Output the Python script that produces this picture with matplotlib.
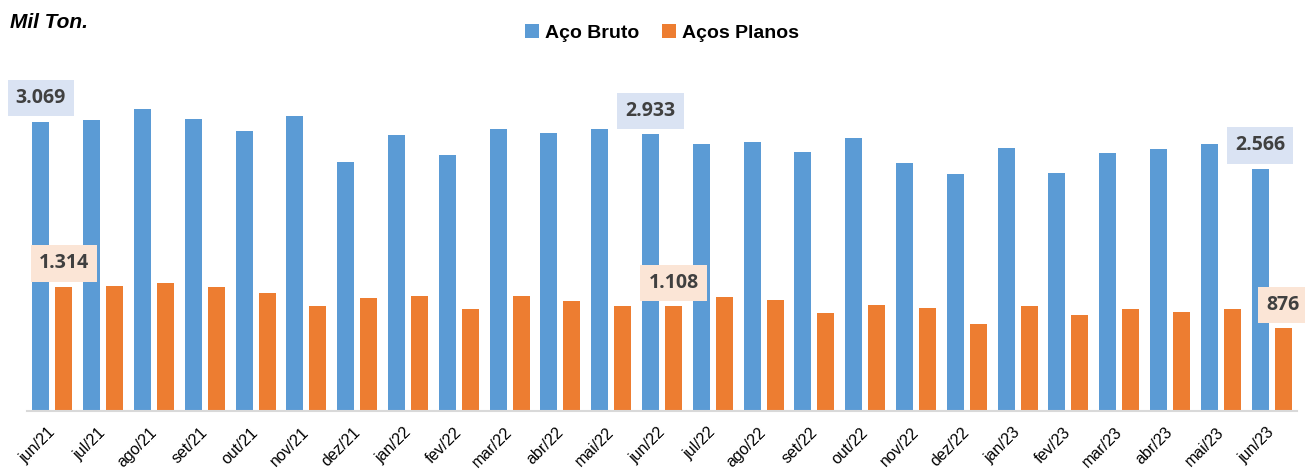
import numpy as np
import matplotlib
matplotlib.use("Agg")
import matplotlib.pyplot as plt
import matplotlib.transforms as mtransforms
from matplotlib.patches import Patch

BLUE = "#5b9bd5"
ORANGE = "#ed7d31"
BLUE_BOX = "#dae3f3"
ORANGE_BOX = "#fbe5d6"
TEXT = "#404040"

plt.rcParams["font.family"] = ["Liberation Sans Narrow", "Liberation Sans", "DejaVu Sans"]

months = ["jun/21", "jul/21", "ago/21", "set/21", "out/21", "nov/21", "dez/21",
          "jan/22", "fev/22", "mar/22", "abr/22", "mai/22", "jun/22", "jul/22",
          "ago/22", "set/22", "out/22", "nov/22", "dez/22", "jan/23", "fev/23",
          "mar/23", "abr/23", "mai/23", "jun/23"]

aco_bruto = [3069, 3083, 3200, 3097, 2970, 3129, 2639, 2928, 2712, 2990, 2948,
             2990, 2933, 2835, 2849, 2743, 2891, 2629, 2512, 2788, 2526, 2731,
             2774, 2834, 2566]

acos_planos = [1314, 1327, 1359, 1314, 1256, 1110, 1195, 1224, 1082, 1224, 1167,
               1110, 1108, 1210, 1181, 1040, 1125, 1096, 922, 1110, 1021, 1082,
               1053, 1082, 876]

labelled = [0, 12, 24]   # months with value boxes


def fmt(v):
    return f"{v:,}".replace(",", ".")


fig = plt.figure(figsize=(13.05, 4.73), dpi=100)
ax = fig.add_axes([27 / 1305, 1 - 411 / 473, 1270 / 1305, 349 / 473])

x = np.arange(len(months))
w = 0.335
off = 0.227
ax.bar(x - off, aco_bruto, w, color=BLUE, label="Aço Bruto")
ax.bar(x + off, acos_planos, w, color=ORANGE, label="Aços Planos")

ax.set_xlim(-0.5, len(months) - 0.5)
ax.set_ylim(0, 3700)
ax.set_yticks([])
for s in ["top", "right", "left"]:
    ax.spines[s].set_visible(False)
ax.spines["bottom"].set_color("#d9d9d9")
ax.spines["bottom"].set_linewidth(1.5)

ax.set_xticks(x)
ax.set_xticklabels(months, rotation=45, ha="right", va="top",
                   rotation_mode="anchor", fontsize=11.5, color="black")
ax.tick_params(axis="x", length=0, pad=10)
shift = mtransforms.ScaledTranslation(-5 / 100, 0, fig.dpi_scale_trans)
for lab in ax.get_xticklabels():
    lab.set_transform(lab.get_transform() + shift)

for i in labelled:
    for xi, v, box in [(x[i] - off, aco_bruto[i], BLUE_BOX),
                       (x[i] + off, acos_planos[i], ORANGE_BOX)]:
        ax.annotate(fmt(v), (xi, v), xytext=(0, 17), textcoords="offset points",
                    ha="center", va="center", fontsize=14, fontweight="bold",
                    color=TEXT, family=["Open Sans", "DejaVu Sans"],
                    bbox=dict(boxstyle="square,pad=0.42", fc=box, ec="none"),
                    annotation_clip=False)

fig.text(10 / 1305, 1 - 22 / 473, "Mil Ton.", fontsize=15, fontweight="bold",
         fontstyle="italic", va="center", ha="left")

handles = [Patch(facecolor=BLUE, label="Aço Bruto"),
           Patch(facecolor=ORANGE, label="Aços Planos")]
fig.legend(handles=handles, loc="center", bbox_to_anchor=(662 / 1305, 1 - 33 / 473),
           ncol=2, frameon=False, prop={"size": 14, "weight": "bold"},
           handlelength=0.7, handleheight=0.7, handletextpad=0.3, columnspacing=1.2)

fig.savefig("out.png", dpi=100)
